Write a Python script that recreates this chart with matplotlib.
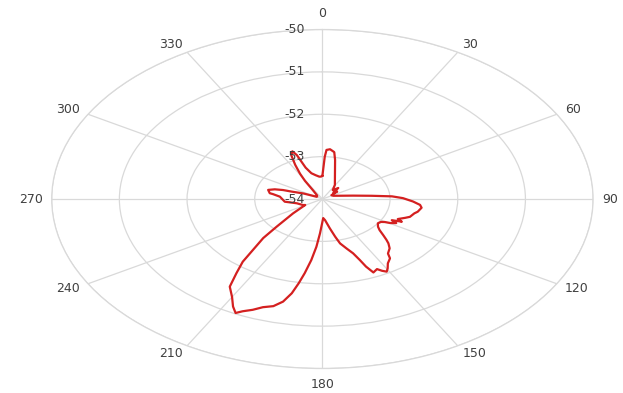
import numpy as np
import matplotlib
matplotlib.use("Agg")
import matplotlib.pyplot as plt

# measured pattern: bearing (deg, clockwise from north) and level (dB)
angles = [
    0, 2, 3, 5.5, 9, 11.5, 18, 29, 36, 42, 47, 51, 56, 65, 75, 80, 84, 86.5,
    89, 92.5, 95.5, 98, 102, 104, 108, 110, 113, 114.5, 116, 117.5, 119.5,
    120.5, 122, 125, 128.5, 131, 133.5, 135.5, 137, 139.5, 143, 144.5, 147.5,
    149.5, 151, 152.5, 154, 156.5, 158, 159, 160.5, 163, 166, 168, 171, 175.5,
    178.5, 182.5, 184.5, 186.5, 188.5, 190, 191.5, 193.5, 196, 199, 201.5,
    204, 205.5, 207.5, 210, 213.5, 216, 218.5, 220.5, 223.5, 226, 232, 241,
    243.5, 255, 263.5, 275, 279, 280, 285, 288, 290, 291, 295, 302, 310, 318,
    326, 329, 331, 333.5, 336, 338.5, 340, 341.5, 345, 350, 355, 358, 360,
]
levels = [
    -53.45, -53.0, -52.84, -52.82, -52.88, -53.06, -53.4, -53.62, -53.74,
    -53.65, -53.78, -53.72, -53.84, -53.82, -53.7, -53.54, -53.27, -52.97,
    -52.81, -52.66, -52.55, -52.52, -52.56, -52.6, -52.64, -52.7, -52.79,
    -52.71, -52.86, -52.77, -52.85, -52.93, -52.98, -53.0, -52.95, -52.88,
    -52.76, -52.65, -52.57, -52.47, -52.39, -52.28, -52.2, -52.1, -52.04,
    -52.09, -52.16, -52.11, -52.28, -52.46, -52.64, -52.78, -52.92, -53.09,
    -53.3, -53.5, -53.55, -53.19, -52.87, -52.55, -52.23, -51.98, -51.73,
    -51.51, -51.37, -51.3, -51.19, -51.1, -51.02, -51.14, -51.33, -51.52,
    -51.84, -52.11, -52.42, -52.73, -53.06, -53.45, -53.71, -53.68, -53.61,
    -53.44, -53.37, -53.26, -53.21, -53.17, -53.26, -53.38, -53.51, -53.69,
    -53.9, -53.9, -53.88, -53.75, -53.5, -53.32, -53.1, -52.87, -52.79,
    -52.9, -53.22, -53.37, -53.43, -53.47, -53.47, -53.45,
]
ring_levels = [-54, -53, -52, -51, -50]
spoke_angles = list(range(0, 360, 30))

plt.rcParams["font.family"] = ["DejaVu Sans"]
grid_col = "#d9d9d9"
text_col = "#404040"
fsize = 9

fig = plt.figure(figsize=(6.23, 3.93), dpi=100)
ax = fig.add_axes([0.083, 0.0623, 0.869, 0.8626], projection="polar")
ax.set_aspect("auto")
ax.set_theta_zero_location("N")
ax.set_theta_direction(-1)
ax.set_ylim(ring_levels[0], ring_levels[-1])
ax.set_yticks(ring_levels)
ax.set_yticklabels([])
ax.set_thetagrids(spoke_angles, labels=[])
ax.grid(True, color=grid_col, linewidth=0.9)
ax.spines["polar"].set_color(grid_col)
ax.spines["polar"].set_linewidth(0.9)

ax.plot(np.deg2rad(angles), levels, color="#d42020", linewidth=1.6, zorder=3)

# category labels just outside the outer ring
gap = 6.5  # points
for a in spoke_angles:
    s, c = np.sin(np.deg2rad(a)), np.cos(np.deg2rad(a))
    if a == 0:
        ha, va = "center", "bottom"
    elif a == 180:
        ha, va = "center", "top"
    elif a < 180:
        ha, va = "left", "center"
    else:
        ha, va = "right", "center"
    ax.annotate(str(a), xy=(np.deg2rad(a), ring_levels[-1]),
                xytext=(gap * s, gap * c), textcoords="offset points",
                ha=ha, va=va, fontsize=fsize, color=text_col,
                annotation_clip=False)

# value labels along the 0 spoke
for lv in ring_levels:
    ax.annotate(str(lv), xy=(0, lv), xytext=(-12.5, 0), textcoords="offset points",
                ha="right", va="center", fontsize=fsize, color=text_col, zorder=5,
                annotation_clip=False)

fig.savefig("out.png", dpi=100)
